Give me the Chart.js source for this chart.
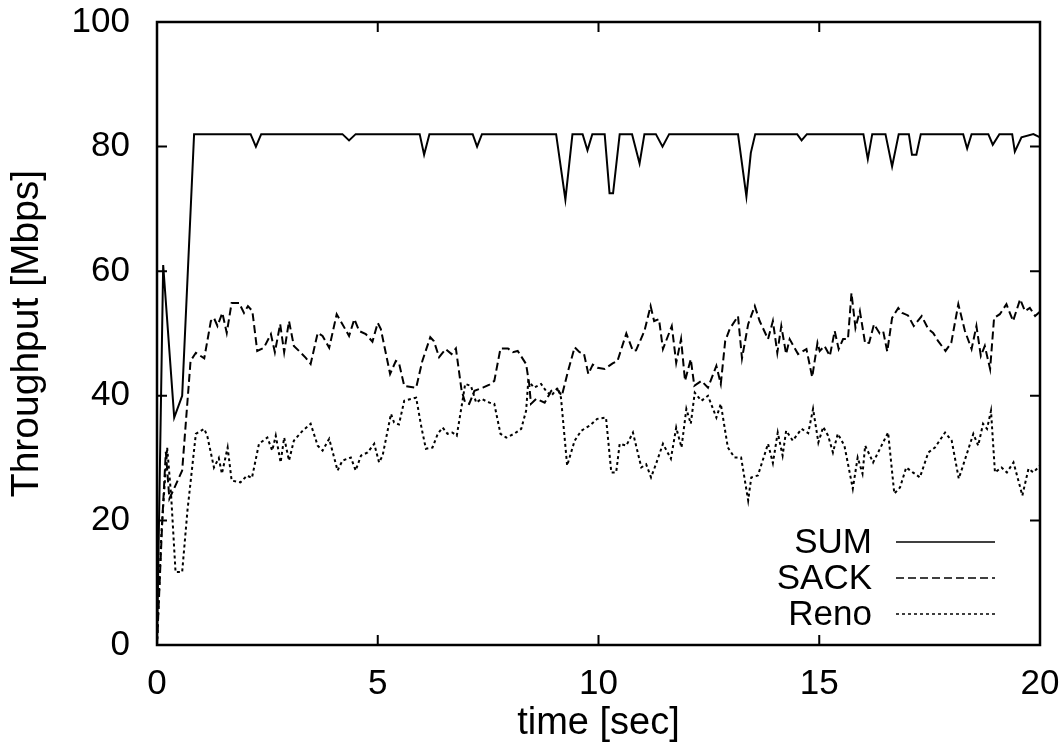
<!DOCTYPE html>
<html>
<head>
<meta charset="utf-8">
<script src="https://cdn.jsdelivr.net/npm/chart.js@4/dist/chart.umd.min.js"></script>
<style>
  body { margin: 0; background: #fff; }
  #wrap { width: 1064px; height: 756px; }
</style>
</head>
<body>
<div id="wrap"><canvas id="chart1" width="1064" height="756"></canvas></div>
<script>
// time [sec] / throughput [Mbps]
const sumT = [0, 0.14, 0.39, 0.57, 0.84, 2.12, 2.24, 2.36, 4.2, 4.35, 4.5, 5.95, 6.05, 6.17, 7.15, 7.25, 7.36,
  9.04, 9.25, 9.41, 9.64, 9.75, 9.86, 10.14, 10.25, 10.33, 10.48, 10.76, 10.93, 11.04, 11.3, 11.45, 11.6,
  13.16, 13.35, 13.45, 13.55, 14.5, 14.6, 14.72, 16.0, 16.1, 16.2, 16.5, 16.65, 16.8, 17.03, 17.1, 17.2, 17.3,
  18.26, 18.35, 18.45, 18.83, 18.93, 19.08, 19.37, 19.43, 19.58, 19.85, 20];
const sumV = [0, 61, 36.5, 40, 82, 82, 80, 82, 82, 81, 82, 82, 78.7, 82, 82, 80, 82,
  82, 71.5, 82, 82, 79.4, 82, 82, 72.5, 72.5, 82, 82, 77.3, 82, 82, 80, 82,
  82, 72, 79, 82, 82, 81, 82, 82, 78, 82, 82, 76.8, 82, 82, 78.7, 78.7, 82,
  82, 79.7, 82, 82, 80.3, 82, 82, 79.2, 81.5, 82, 81.5];

const sackT = [0, 0.12, 0.2, 0.28, 0.38, 0.57, 0.76, 0.88, 1.07, 1.22, 1.29, 1.37, 1.48, 1.58, 1.69, 1.86, 1.97,
  2.06, 2.16, 2.27, 2.42, 2.58, 2.67, 2.79, 2.88, 2.99, 3.1, 3.26, 3.37, 3.48, 3.64, 3.75, 3.9, 4.07, 4.2, 4.35,
  4.47, 4.58, 4.73, 4.88, 5.0, 5.07, 5.28, 5.41, 5.48, 5.6, 5.87, 6.01, 6.19, 6.27, 6.39, 6.54, 6.67, 6.77, 6.9,
  6.98, 7.07, 7.19, 7.38, 7.53, 7.64, 7.78, 7.95, 8.06, 8.17, 8.36, 8.43, 8.47, 8.59, 8.78, 8.93, 9.06, 9.17,
  9.3, 9.46, 9.57, 9.67, 9.77, 9.87, 9.98, 10.14, 10.32, 10.43, 10.63, 10.78, 10.85, 11.04, 11.18, 11.26, 11.37,
  11.46, 11.66, 11.76, 11.87, 11.96, 12.09, 12.17, 12.33, 12.48, 12.67, 12.77, 12.87, 12.97, 13.16, 13.25, 13.39,
  13.54, 13.65, 13.84, 13.95, 14.05, 14.14, 14.25, 14.33, 14.52, 14.71, 14.84, 14.96, 15.01, 15.12, 15.24, 15.35,
  15.44, 15.54, 15.65, 15.73, 15.82, 15.92, 16.04, 16.13, 16.24, 16.37, 16.45, 16.54, 16.65, 16.79, 16.88, 17.01,
  17.14, 17.32, 17.47, 17.58, 17.69, 17.86, 17.99, 18.15, 18.3, 18.45, 18.56, 18.66, 18.75, 18.87, 18.96, 19.09,
  19.24, 19.39, 19.55, 19.66, 19.77, 19.89, 20];
const sackV = [0, 20, 31, 23.5, 25, 28, 45.6, 46.9, 46, 52, 52.5, 51.2, 53.3, 50.1, 54.9, 54.9, 53.3,
  54.4, 53.6, 47.2, 47.7, 49.9, 47, 51.5, 47, 52, 48, 46.9, 46.1, 45.1, 50.1, 49.6, 47.7, 53.1, 51.5, 49.6,
  52.3, 50.4, 49.9, 48.7, 51.7, 50.7, 43.5, 45.6, 45.3, 41.6, 41.3, 45.6, 49.4, 48.8, 46.2, 47.5, 46.7, 47.6, 40.8,
  38.9, 38.7, 40.8, 41.3, 41.8, 42.4, 47.6, 47.6, 47, 47.2, 45.1, 41.9, 38.7, 39.5, 38.9, 40.8, 41.1, 40,
  43.7, 47.8, 47, 46.8, 43.5, 45, 44.5, 44.3, 45.2, 45.6, 50, 47.2, 47.3, 50.4, 54.4, 52, 52.3,
  47.5, 51.2, 45.3, 49.1, 42.4, 45.9, 41.6, 42.4, 41.3, 44.8, 41.9, 48.8, 50.7, 52.8, 46, 51.5,
  54.4, 52, 49.1, 52, 46.9, 51.2, 46.7, 49.1, 46.7, 47.5, 43, 48.5, 47.2, 48, 46.4, 50.4,
  47.5, 49.1, 49.1, 56.5, 50.9, 53.6, 48.4, 48.5, 51.5, 50, 50.3, 47.1, 52.5, 54.1, 53.3, 52.9,
  51.2, 52.8, 50.7, 50.1, 48.8, 47.2, 48.5, 54.7, 50.4, 47.5, 51.2, 46.4, 48, 44.3, 52.5, 53.1,
  54.7, 52, 55.5, 53.6, 54.1, 52.8, 53.5];

const renoT = [0, 0.1, 0.23, 0.32, 0.42, 0.57, 0.69, 0.88, 1.07, 1.14, 1.29, 1.4, 1.47, 1.6, 1.69, 1.89, 2.04,
  2.15, 2.31, 2.5, 2.61, 2.69, 2.8, 2.88, 2.99, 3.1, 3.3, 3.48, 3.64, 3.75, 3.9, 4.09, 4.2, 4.39, 4.5, 4.62,
  4.77, 4.92, 5.03, 5.11, 5.3, 5.37, 5.48, 5.6, 5.87, 5.99, 6.09, 6.24, 6.36, 6.47, 6.58, 6.69, 6.79, 6.92,
  6.98, 7.11, 7.23, 7.35, 7.53, 7.64, 7.78, 7.91, 8.09, 8.25, 8.36, 8.41, 8.54, 8.7, 8.81, 8.93, 9.08, 9.15,
  9.29, 9.46, 9.61, 9.8, 9.97, 10.17, 10.29, 10.4, 10.48, 10.63, 10.78, 10.97, 11.08, 11.19, 11.3, 11.46,
  11.64, 11.76, 11.88, 11.99, 12.09, 12.18, 12.33, 12.48, 12.67, 12.77, 12.93, 13.08, 13.23, 13.39, 13.46,
  13.61, 13.84, 13.95, 14.06, 14.17, 14.25, 14.4, 14.6, 14.75, 14.86, 14.98, 15.09, 15.2, 15.31, 15.42, 15.57,
  15.76, 15.87, 15.98, 16.04, 16.22, 16.41, 16.56, 16.7, 16.83, 16.97, 17.12, 17.28, 17.47, 17.62, 17.85, 18.0,
  18.16, 18.33, 18.49, 18.6, 18.71, 18.8, 18.89, 18.98, 19.13, 19.25, 19.4, 19.51, 19.6, 19.74, 19.85, 20];
const renoV = [0, 18, 31.7, 24, 11.7, 11.7, 21.6, 33.9, 34.7, 33.5, 28.5, 30, 27.5, 31.7, 26.4, 26.1, 27.2,
  26.8, 32.3, 33.3, 31.2, 33.6, 29.3, 33.3, 29.6, 32.8, 34.4, 35.5, 32, 31.2, 33.1, 28, 29.6, 30.1, 28, 30.4,
  30.9, 32.3, 29.3, 30.4, 37.1, 35.7, 35.4, 39.2, 39.7, 34.9, 31.5, 31.7, 33.9, 34.9, 33.9, 34.1, 33.6, 39.2,
  41.9, 41.6, 38.9, 39.5, 38.9, 38.7, 33.9, 33.3, 33.9, 34.7, 37.6, 42.4, 41.3, 41.9, 40.8, 40, 41.3, 39.7,
  28.8, 32.8, 34.4, 35.2, 36.3, 36.5, 27.7, 27.7, 32.3, 32, 34.1, 28.5, 29, 26.9, 29, 32.3,
  29.9, 34.9, 31.7, 37.9, 35.5, 40.5, 39.2, 40, 36.5, 38.7, 31.7, 30.1, 30.1, 23.2, 26.9,
  27.2, 32.3, 29.2, 34.1, 30.4, 34.4, 32.8, 34.7, 34, 37.9, 32.5, 35, 33.6, 30.9, 33.9, 32,
  25.1, 30.1, 27.5, 32, 29.3, 32, 34.1, 24.3, 25.3, 28.5, 27.7, 26.9, 30.9, 31.7, 34.1, 32.8,
  26.7, 30.4, 33.9, 32, 35.5, 34.7, 37.6, 27.7, 28.5, 27.7, 29.3, 26.4, 24, 28.3, 27.7, 28.8];

const xTicks = [0, 5, 10, 15, 20];
const yTicks = [0, 20, 40, 60, 80, 100];

const FONT = "'Liberation Sans', Arial, Helvetica, sans-serif";
const sackDash = [8, 4];
const renoDash = [3, 3];

function pts(t, v) {
  return t.map((x, i) => ({ x: x, y: v[i] }));
}

// box round the plot, ticks pointing inwards, legend inside the plot
const framePlugin = {
  id: "frame",
  afterDatasetsDraw(chart) {
    const { ctx, chartArea: a, scales } = chart;
    ctx.save();
    ctx.strokeStyle = "#000";
    ctx.lineWidth = 2.5;
    ctx.setLineDash([]);
    ctx.strokeRect(a.left, a.top, a.right - a.left, a.bottom - a.top);
    ctx.lineWidth = 2;
    const len = 10;
    xTicks.forEach((v) => {
      const x = scales.x.getPixelForValue(v);
      ctx.beginPath();
      ctx.moveTo(x, a.bottom); ctx.lineTo(x, a.bottom - len);
      ctx.moveTo(x, a.top); ctx.lineTo(x, a.top + len);
      ctx.stroke();
    });
    yTicks.forEach((v) => {
      const y = scales.y.getPixelForValue(v);
      ctx.beginPath();
      ctx.moveTo(a.left, y); ctx.lineTo(a.left + len, y);
      ctx.moveTo(a.right, y); ctx.lineTo(a.right - len, y);
      ctx.stroke();
    });

    // legend
    const rows = [["SUM", []], ["SACK", sackDash], ["Reno", renoDash]];
    const textRight = a.left + 715;
    const lineL = a.left + 739, lineR = a.left + 838;
    let y = a.top + 520;
    ctx.font = "35px " + FONT;
    ctx.fillStyle = "#000";
    ctx.textAlign = "right";
    ctx.textBaseline = "middle";
    rows.forEach(([label, dash]) => {
      ctx.fillText(label, textRight, y + 1);
      ctx.setLineDash(dash);
      ctx.lineWidth = 1.6;
      ctx.beginPath();
      ctx.moveTo(lineL, y); ctx.lineTo(lineR, y);
      ctx.stroke();
      y += 36;
    });
    ctx.restore();
  },
};

const ctx = document.getElementById("chart1");
const myChart = new Chart(ctx, {
  type: "line",
  data: {
    datasets: [
      { label: "SUM", data: pts(sumT, sumV), borderColor: "#000", borderWidth: 2 },
      { label: "SACK", data: pts(sackT, sackV), borderColor: "#000", borderWidth: 2, borderDash: sackDash },
      { label: "Reno", data: pts(renoT, renoV), borderColor: "#000", borderWidth: 2, borderDash: renoDash },
    ],
  },
  options: {
    responsive: false,
    animation: false,
    elements: { point: { radius: 0 }, line: { tension: 0 } },
    layout: { padding: { top: 22, right: 24, left: 0, bottom: 0 } },
    plugins: {
      legend: { display: false },
      tooltip: { enabled: false },
    },
    scales: {
      x: {
        type: "linear",
        min: 0,
        max: 20,
        afterBuildTicks: (s) => { s.ticks = xTicks.map((v) => ({ value: v })); },
        afterFit: (s) => { s.height = 111; s.paddingLeft = 0; s.paddingRight = 0; },
        grid: { display: false, drawTicks: false },
        border: { display: false },
        ticks: { color: "#000", padding: 18, font: { family: FONT, size: 35 } },
        title: {
          display: true,
          text: "time [sec]",
          color: "#000",
          font: { family: FONT, size: 38 },
          padding: { top: 0, bottom: 10 },
        },
      },
      y: {
        min: 0,
        max: 100,
        afterBuildTicks: (s) => { s.ticks = yTicks.map((v) => ({ value: v })); },
        afterFit: (s) => { s.width = 157; s.paddingTop = 0; s.paddingBottom = 0; },
        grid: { display: false, drawTicks: false },
        border: { display: false },
        ticks: { color: "#000", padding: 27, font: { family: FONT, size: 35 } },
        title: {
          display: true,
          text: "Throughput [Mbps]",
          color: "#000",
          font: { family: FONT, size: 39 },
          padding: { top: 4, bottom: 0 },
        },
      },
    },
  },
  plugins: [framePlugin],
});
</script>
</body>
</html>
